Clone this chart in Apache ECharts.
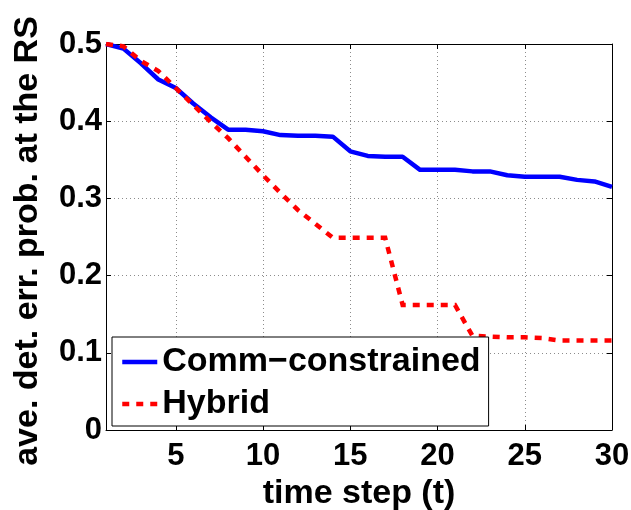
<!DOCTYPE html>
<html>
<head>
<meta charset="utf-8">
<script src="https://cdn.jsdelivr.net/npm/echarts@6/dist/echarts.min.js"></script>
<style>
  html, body { margin: 0; padding: 0; background: #fff; }
  #chart { width: 631px; height: 510px; }
</style>
</head>
<body>
<div id="chart"></div>
<script>
// Time steps and average detection error probability at the RS
const timeSteps = [1, 2, 3, 4, 5, 6, 7, 8, 9, 10, 11, 12, 13, 14, 15, 16, 17, 18, 19, 20, 21, 22, 23, 24, 25, 26, 27, 28, 29, 30];
const commConstrained = [0.500, 0.494, 0.475, 0.454, 0.443, 0.423, 0.405, 0.389, 0.389, 0.387,
                         0.382, 0.381, 0.381, 0.380, 0.361, 0.355, 0.354, 0.354, 0.337, 0.337,
                         0.337, 0.335, 0.335, 0.330, 0.328, 0.328, 0.328, 0.324, 0.322, 0.315];
const hybrid = [0.500, 0.497, 0.478, 0.465, 0.443, 0.421, 0.399, 0.378, 0.354, 0.330,
                0.307, 0.285, 0.267, 0.249, 0.249, 0.249, 0.249, 0.162, 0.162, 0.162,
                0.162, 0.122, 0.121, 0.120, 0.120, 0.119, 0.116, 0.116, 0.116, 0.116];
const xTicks = [5, 10, 15, 20, 25, 30];
const seriesNames = ['Comm\u2212constrained', 'Hybrid'];

const FONT = "'Liberation Sans', Arial, Helvetica, sans-serif";
const zip = (xs, ys) => xs.map((x, i) => [x, ys[i]]);

const frameLine = { show: true, onZero: false, lineStyle: { color: '#000', width: 1 } };
const dotted = { show: true, lineStyle: { color: '#8c8c8c', width: 1, type: [1, 3] } };

const chart = echarts.init(document.getElementById('chart'), null, { renderer: 'canvas' });
chart.setOption({
  animation: false,
  backgroundColor: '#fff',
  textStyle: { fontFamily: FONT },
  grid: { left: 106, right: 19, top: 44, bottom: 80, containLabel: false, outerBoundsMode: 'none' },
  xAxis: [
    {
      type: 'value', min: 1, max: 30, position: 'bottom',
      axisLine: frameLine,
      axisTick: { show: true, inside: true, length: 5, customValues: xTicks, lineStyle: { color: '#000' } },
      axisLabel: { show: true, customValues: xTicks, color: '#000', fontSize: 31, fontWeight: 'bold', fontFamily: FONT, margin: 11 },
      splitLine: dotted,
      name: 'time step (t)', nameLocation: 'middle', nameGap: 35,
      nameTextStyle: { color: '#000', fontSize: 34, fontWeight: 'bold', fontFamily: FONT }
    },
    {
      type: 'value', min: 1, max: 30, position: 'top',
      axisLine: frameLine,
      axisTick: { show: true, inside: true, length: 5, customValues: xTicks, lineStyle: { color: '#000' } },
      axisLabel: { show: false },
      splitLine: { show: false }
    }
  ],
  yAxis: [
    {
      type: 'value', min: 0, max: 0.5, interval: 0.1, position: 'left',
      axisLine: frameLine,
      axisTick: { show: true, inside: true, length: 5, lineStyle: { color: '#000' } },
      axisLabel: { color: '#000', fontSize: 31, fontWeight: 'bold', fontFamily: FONT, margin: 4 },
      splitLine: dotted,
      name: 'ave. det. err. prob. at the RS', nameLocation: 'middle', nameGap: 61, nameRotate: 90,
      nameTextStyle: { color: '#000', fontSize: 34, fontWeight: 'bold', fontFamily: FONT, padding: [0, 8, 0, 0] }
    },
    {
      type: 'value', min: 0, max: 0.5, interval: 0.1, position: 'right',
      axisLine: frameLine,
      axisTick: { show: true, inside: true, length: 5, lineStyle: { color: '#000' } },
      axisLabel: { show: false },
      splitLine: { show: false }
    }
  ],
  legend: {
    left: 112, top: 337, orient: 'vertical',
    backgroundColor: '#fff', borderColor: '#000', borderWidth: 1, borderRadius: 0,
    padding: [8, 8, 5, 8],
    itemWidth: 35, itemHeight: 12, itemGap: 8,
    itemStyle: { color: 'rgba(0,0,0,0)', borderColor: 'rgba(0,0,0,0)', borderWidth: 0 },
    lineStyle: { width: 4.5 },
    textStyle: { color: '#000', fontSize: 34, fontWeight: 'bold', fontFamily: FONT, lineHeight: 34 },
    data: seriesNames
  },
  series: [
    {
      name: seriesNames[0], type: 'line', data: zip(timeSteps, commConstrained),
      showSymbol: false, symbol: 'none',
      lineStyle: { color: '#0000ff', width: 4.5, cap: 'butt', join: 'round' },
      itemStyle: { color: '#0000ff' }
    },
    {
      name: seriesNames[1], type: 'line', data: zip(timeSteps, hybrid),
      showSymbol: false, symbol: 'none',
      lineStyle: { color: '#ff0000', width: 4.5, type: [7, 7], cap: 'butt', join: 'miter' },
      itemStyle: { color: '#ff0000' }
    }
  ]
});
</script>
</body>
</html>
